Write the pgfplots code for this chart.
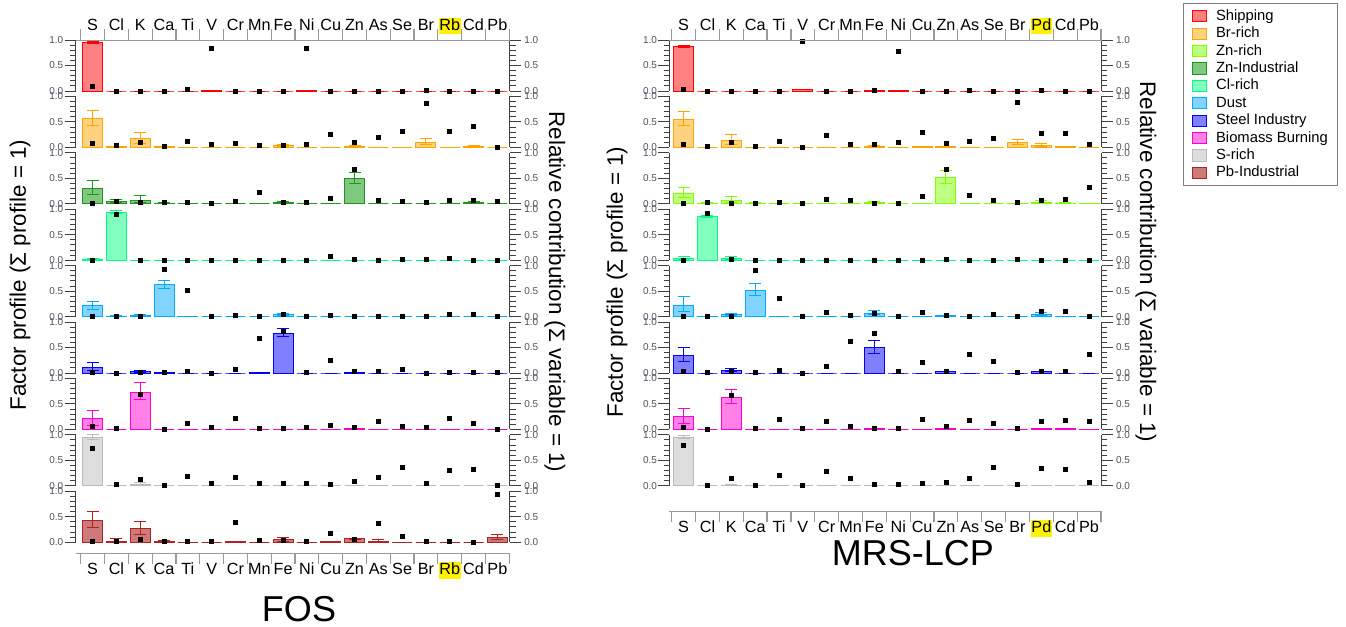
\documentclass[border=0pt]{standalone}
\usepackage{pgfplots}
\pgfplotsset{compat=1.18}
\usepackage{pgfplotstable}
\usepackage{fontspec}
\setmainfont{Liberation Sans}

\definecolor{cShip}{HTML}{FF0000} \definecolor{fShip}{HTML}{FF8080}
\definecolor{cBr}{HTML}{FFA500} \definecolor{fBr}{HTML}{FFD280}
\definecolor{cZnR}{HTML}{80FF00} \definecolor{fZnR}{HTML}{BFFF80}
\definecolor{cZnI}{HTML}{1E961E} \definecolor{fZnI}{HTML}{80C880}
\definecolor{cCl}{HTML}{00FF80} \definecolor{fCl}{HTML}{80FFBF}
\definecolor{cDust}{HTML}{00AAFF} \definecolor{fDust}{HTML}{80D4FF}
\definecolor{cSteel}{HTML}{0000FF} \definecolor{fSteel}{HTML}{8080FF}
\definecolor{cBio}{HTML}{FF00CC} \definecolor{fBio}{HTML}{FF80E6}
\definecolor{cSr}{HTML}{BBBBBB} \definecolor{fSr}{HTML}{DDDDDD}
\definecolor{cPb}{HTML}{B22222} \definecolor{fPb}{HTML}{CC7A7A}
\definecolor{axc}{HTML}{404040}
\definecolor{lblc}{HTML}{505060}
\definecolor{xac}{HTML}{999999}

% ---------------- FOS ----------------
\pgfplotstableread{
x y ep em c
0 0.95 0.03 0.02 0.085
1 0 0 0 0
2 0 0 0 0
3 0 0 0 0
4 0 0 0 0.03
5 0.01 0 0 0.84
6 0 0 0 0
7 0 0 0 0
8 0 0 0 0
9 0.01 0 0 0.83
10 0 0 0 0
11 0 0 0 0
12 0 0 0 0
13 0 0 0 0
14 0 0 0 0.01
15 0 0 0 0
16 0 0 0 0
17 0 0 0 0
}\LA
\pgfplotstableread{
x y ep em c
0 0.57 0.16 0.15 0.07
1 0.02 0 0 0.03
2 0.17 0.12 0.10 0.09
3 0.01 0 0 0.01
4 0 0 0 0.11
5 0 0 0 0.05
6 0 0 0 0.07
7 0 0 0 0.03
8 0.03 0.03 0.02 0.04
9 0 0 0 0.05
10 0 0 0 0.25
11 0.02 0.02 0.01 0.09
12 0 0 0 0.20
13 0 0 0 0.32
14 0.09 0.08 0.04 0.87
15 0 0 0 0.31
16 0.02 0.02 0.01 0.42
17 0 0 0 0
}\LB
\pgfplotstableread{
x y ep em c
0 0.30 0.16 0.12 0.01
1 0.04 0.04 0.02 0.04
2 0.07 0.09 0.05 0.03
3 0.01 0.02 0.01 0.03
4 0 0 0 0.02
5 0 0 0 0
6 0 0 0 0.05
7 0 0 0 0.22
8 0.02 0.03 0.02 0.02
9 0 0 0 0.02
10 0 0 0 0.11
11 0.49 0.13 0.10 0.68
12 0 0 0 0.07
13 0 0 0 0.04
14 0 0 0 0.02
15 0 0 0 0.06
16 0.02 0.02 0.01 0.07
17 0 0 0 0.04
}\LC
\pgfplotstableread{
x y ep em c
0 0.02 0.02 0.01 0
1 0.94 0.03 0.02 0.89
2 0 0 0 0
3 0 0 0 0
4 0 0 0 0
5 0 0 0 0
6 0 0 0 0
7 0 0 0 0
8 0 0 0 0
9 0 0 0 0
10 0 0 0 0.08
11 0 0 0 0.01
12 0 0 0 0
13 0 0 0 0.01
14 0 0 0 0.01
15 0 0 0 0.04
16 0 0 0 0
17 0 0 0 0
}\LD
\pgfplotstableread{
x y ep em c
0 0.21 0.09 0.07 0.01
1 0.01 0.02 0.01 0
2 0.03 0.02 0.01 0.01
3 0.62 0.09 0.06 0.92
4 0.01 0 0 0.51
5 0 0 0 0
6 0 0 0 0.03
7 0 0 0 0.01
8 0.04 0.03 0.02 0.05
9 0 0 0 0.01
10 0 0 0 0.03
11 0 0 0 0.01
12 0 0 0 0
13 0 0 0 0.01
14 0 0 0 0
15 0 0 0 0.05
16 0 0 0 0.05
17 0 0 0 0
}\LE
\pgfplotstableread{
x y ep em c
0 0.10 0.11 0.05 0.01
1 0 0 0 0
2 0.02 0.03 0.01 0.01
3 0.01 0 0 0.01
4 0 0 0 0.03
5 0 0 0 0
6 0 0 0 0.08
7 0.01 0 0 0.68
8 0.78 0.10 0.07 0.81
9 0 0 0 0.01
10 0 0 0 0.24
11 0.01 0 0 0.03
12 0 0 0 0.04
13 0 0 0 0.08
14 0 0 0 0
15 0 0 0 0.01
16 0 0 0 0.01
17 0 0 0 0.01
}\LF
\pgfplotstableread{
x y ep em c
0 0.22 0.16 0.15 0.05
1 0 0 0 0.02
2 0.73 0.19 0.15 0.69
3 0 0 0 0
4 0 0 0 0.11
5 0 0 0 0.03
6 0 0 0 0.22
7 0 0 0 0.01
8 0 0 0 0.01
9 0 0 0 0.03
10 0 0 0 0.07
11 0.02 0 0 0.04
12 0 0 0 0.15
13 0 0 0 0.05
14 0 0 0 0.03
15 0 0 0 0.21
16 0 0 0 0.12
17 0 0 0 0
}\LG
\pgfplotstableread{
x y ep em c
0 0.95 0.05 0.04 0.74
1 0 0 0 0.03
2 0.02 0.05 0.02 0.12
3 0 0 0 0.01
4 0 0 0 0.19
5 0 0 0 0.05
6 0 0 0 0.16
7 0 0 0 0.04
8 0 0 0 0.04
9 0 0 0 0.04
10 0 0 0 0.03
11 0 0 0 0.08
12 0 0 0 0.16
13 0 0 0 0.37
14 0 0 0 0.04
15 0 0 0 0.31
16 0 0 0 0.32
17 0 0 0 0.01
}\LH
\pgfplotstableread{
x y ep em c
0 0.42 0.18 0.13 0.01
1 0.02 0.05 0.02 0.01
2 0.27 0.14 0.11 0.05
3 0.01 0.02 0.01 0.01
4 0 0 0 0.01
5 0 0 0 0.01
6 0.01 0 0 0.39
7 0 0 0 0.03
8 0.05 0.05 0.03 0.03
9 0 0 0 0.01
10 0.01 0 0 0.18
11 0.07 0.01 0.01 0.05
12 0.02 0.03 0.01 0.37
13 0 0 0 0.11
14 0 0 0 0.01
15 0 0 0 0.01
16 0 0 0 0
17 0.09 0.06 0.04 0.94
}\LI

% ---------------- MRS-LCP ----------------
\pgfplotstableread{
x y ep em c
0 0.88 0.02 0.02 0.03
1 0 0 0 0
2 0 0 0 0
3 0 0 0 0
4 0 0 0 0
5 0.02 0 0 0.97
6 0 0 0 0
7 0 0 0 0
8 0.01 0 0 0.01
9 0.01 0 0 0.78
10 0 0 0 0
11 0 0 0 0
12 0 0 0 0.01
13 0 0 0 0
14 0 0 0 0
15 0 0 0 0.01
16 0 0 0 0
17 0 0 0 0
}\RA
\pgfplotstableread{
x y ep em c
0 0.55 0.16 0.13 0.05
1 0 0 0 0.01
2 0.13 0.12 0.07 0.09
3 0 0 0 0.01
4 0 0 0 0.12
5 0 0 0 0
6 0 0 0 0.24
7 0 0 0 0.06
8 0.02 0.01 0.01 0.05
9 0 0 0 0.09
10 0.01 0 0 0.30
11 0.01 0 0 0.08
12 0 0 0 0.11
13 0 0 0 0.17
14 0.10 0.06 0.04 0.88
15 0.03 0.04 0.02 0.28
16 0.01 0 0 0.28
17 0 0 0 0.06
}\RB
\pgfplotstableread{
x y ep em c
0 0.21 0.11 0.09 0.01
1 0.01 0.02 0.01 0.03
2 0.07 0.07 0.04 0.01
3 0.01 0.02 0.01 0.01
4 0 0 0 0.03
5 0 0 0 0
6 0 0 0 0.08
7 0 0 0 0.06
8 0.02 0.02 0.01 0.01
9 0 0 0 0.01
10 0.01 0 0 0.14
11 0.51 0.14 0.11 0.68
12 0 0 0 0.16
13 0 0 0 0.06
14 0.01 0 0 0.03
15 0.03 0.04 0.02 0.06
16 0.01 0.02 0.01 0.08
17 0.01 0 0 0.33
}\RC
\pgfplotstableread{
x y ep em c
0 0.04 0.03 0.02 0
1 0.85 0.03 0.02 0.92
2 0.04 0.03 0.02 0.01
3 0 0 0 0
4 0 0 0 0
5 0 0 0 0
6 0 0 0 0
7 0 0 0 0
8 0 0 0 0
9 0 0 0 0
10 0 0 0 0
11 0 0 0 0.02
12 0 0 0 0
13 0 0 0 0
14 0 0 0 0.02
15 0 0 0 0
16 0 0 0 0
17 0 0 0 0
}\RD
\pgfplotstableread{
x y ep em c
0 0.22 0.17 0.12 0.01
1 0.01 0 0 0.01
2 0.04 0.03 0.02 0.01
3 0.52 0.13 0.10 0.91
4 0 0 0 0.35
5 0 0 0 0
6 0 0 0 0.08
7 0 0 0 0.03
8 0.07 0.04 0.03 0.07
9 0 0 0 0.01
10 0 0 0 0.08
11 0.02 0 0 0.03
12 0 0 0 0
13 0 0 0 0.04
14 0 0 0 0
15 0.04 0.04 0.02 0.10
16 0.01 0 0 0.10
17 0 0 0 0.01
}\RE
\pgfplotstableread{
x y ep em c
0 0.34 0.16 0.12 0.04
1 0 0 0 0.01
2 0.04 0.05 0.02 0.03
3 0 0 0 0.01
4 0 0 0 0.06
5 0 0 0 0
6 0 0 0 0.13
7 0 0 0 0.62
8 0.50 0.13 0.11 0.78
9 0 0 0 0.04
10 0 0 0 0.21
11 0.02 0 0 0.04
12 0 0 0 0.36
13 0 0 0 0.22
14 0 0 0 0.01
15 0.02 0.01 0 0.04
16 0 0 0 0.04
17 0 0 0 0.36
}\RF
\pgfplotstableread{
x y ep em c
0 0.25 0.16 0.13 0.04
1 0 0 0 0
2 0.63 0.16 0.12 0.66
3 0 0 0 0.01
4 0 0 0 0.20
5 0 0 0 0.01
6 0 0 0 0.15
7 0 0 0 0.05
8 0.01 0 0 0.02
9 0 0 0 0.02
10 0 0 0 0.19
11 0.01 0 0 0.06
12 0 0 0 0.17
13 0 0 0 0.12
14 0 0 0 0.02
15 0.01 0 0 0.16
16 0.01 0 0 0.17
17 0 0 0 0.15
}\RG
\pgfplotstableread{
x y ep em c
0 0.95 0.04 0.03 0.80
1 0 0 0 0.01
2 0.01 0.02 0.01 0.14
3 0 0 0 0.01
4 0 0 0 0.20
5 0 0 0 0.01
6 0 0 0 0.29
7 0 0 0 0.14
8 0 0 0 0.03
9 0 0 0 0.03
10 0 0 0 0.05
11 0 0 0 0.07
12 0 0 0 0.14
13 0 0 0 0.36
14 0 0 0 0.03
15 0.01 0 0 0.34
16 0 0 0 0.33
17 0 0 0 0.06
}\RH

\newcommand{\hlbox}[1]{{\setlength{\fboxsep}{0.2pt}\colorbox{yellow}{\rule[-1.95pt]{0pt}{6.95pt}#1}}}

\pgfplotsset{
  panelbase/.style={scale only axis, height=25.5pt, ymin=0, ymax=1, xmax=17.53,
    separate axis lines, axis line style={draw=axc, line width=0.5pt},
    x axis line style={draw=none},
    xtick=\empty, ytick={0,0.5,1}, yticklabels={0.0,0.5,1.0}, minor y tick num=4,
    tick align=outside, major tick length=5.5pt, minor tick length=2.8pt,
    tick style={axc, line width=0.5pt},
    yticklabel style={font=\fontsize{5}{5}\selectfont, text=lblc, inner sep=0.5pt},
    anchor=south west, clip=false,
    after end axis/.code={
      \node[font=\fontsize{5}{5}\selectfont, text=lblc, anchor=west, inner sep=0.5pt, xshift=6.5pt] at (rel axis cs:1,0) {0.0};
      \node[font=\fontsize{5}{5}\selectfont, text=lblc, anchor=west, inner sep=0.5pt, xshift=6.5pt] at (rel axis cs:1,0.5) {0.5};
      \node[font=\fontsize{5}{5}\selectfont, text=lblc, anchor=west, inner sep=0.5pt, xshift=6.5pt] at (rel axis cs:1,1) {1.0};
    }},
  panelL/.style={panelbase, width=217.15pt, xmin=-0.71},
  panelR/.style={panelbase, width=216.2pt, xmin=-0.60},
  catbase/.style={scale only axis, ymin=0, ymax=1, xmax=17.53, anchor=south west,
    axis y line=none, axis line style={-, draw=xac, line width=0.5pt},
    xtick={0,...,17}, minor xtick={-0.5,0.5,...,17.5},
    tick align=outside, major tick length=0pt, minor tick length=5.5pt,
    tick style={xac, line width=0.6pt}},
  sq legend/.style={legend image code/.code={\draw[##1] (0pt,-2.8pt) rectangle (7pt,2.8pt);}},
}

\newcommand{\panel}[6]{%
\begin{axis}[panel#6, at={(#1,#2)}]
\addplot[ybar, bar width=0.84, draw=#3, fill=#4, line width=0.5pt,
  error bars/.cd, y dir=both, y explicit,
  error bar style={draw=#3, line width=0.5pt},
  error mark options={draw=#3, mark size=3pt, line width=0.5pt, rotate=90}]
  table[x=x, y=y, y error plus=ep, y error minus=em]{#5};
\addplot[only marks, mark=square*, mark size=1pt, mark options={fill=black, draw=black}]
  table[x=x, y=c]{#5};
\end{axis}}

\begin{document}
\begin{tikzpicture}
\useasboundingbox (0,0) rectangle (673pt,-313.5pt);

% ---- FOS group ----
\panel{37.85pt}{-45.5pt}{cShip}{fShip}{\LA}{L}
\panel{37.85pt}{-73.7pt}{cBr}{fBr}{\LB}{L}
\panel{37.85pt}{-101.9pt}{cZnI}{fZnI}{\LC}{L}
\panel{37.85pt}{-130.1pt}{cCl}{fCl}{\LD}{L}
\panel{37.85pt}{-158.3pt}{cDust}{fDust}{\LE}{L}
\panel{37.85pt}{-186.5pt}{cSteel}{fSteel}{\LF}{L}
\panel{37.85pt}{-214.7pt}{cBio}{fBio}{\LG}{L}
\panel{37.85pt}{-242.9pt}{cSr}{fSr}{\LH}{L}
\panel{37.85pt}{-271.1pt}{cPb}{fPb}{\LI}{L}

\begin{axis}[catbase, width=217.15pt, height=25.5pt, xmin=-0.71, at={(37.85pt,-45.5pt)},
  axis x line*=top,
  xticklabels={S,Cl,K,Ca,Ti,V,Cr,Mn,Fe,Ni,Cu,Zn,As,Se,Br,\hlbox{Rb},Cd,Pb},
  xticklabel style={font=\fontsize{8.1}{8.1}\selectfont, anchor=south, text height=5.8pt, text depth=0pt, inner sep=0pt, yshift=4.75pt}]
\end{axis}
\begin{axis}[catbase, width=217.15pt, height=4pt, xmin=-0.71, at={(37.85pt,-276.5pt)},
  axis x line*=bottom,
  xticklabels={S,Cl,K,Ca,Ti,V,Cr,Mn,Fe,Ni,Cu,Zn,As,Se,Br,\hlbox{Rb},Cd,Pb},
  xticklabel style={font=\fontsize{8.1}{8.1}\selectfont, anchor=north, text height=5.8pt, text depth=0pt, inner sep=0pt, yshift=-4.6pt}]
\end{axis}

% ---- MRS-LCP group ----
\panel{334.65pt}{-45.5pt}{cShip}{fShip}{\RA}{R}
\panel{334.65pt}{-73.7pt}{cBr}{fBr}{\RB}{R}
\panel{334.65pt}{-101.9pt}{cZnR}{fZnR}{\RC}{R}
\panel{334.65pt}{-130.1pt}{cCl}{fCl}{\RD}{R}
\panel{334.65pt}{-158.3pt}{cDust}{fDust}{\RE}{R}
\panel{334.65pt}{-186.5pt}{cSteel}{fSteel}{\RF}{R}
\panel{334.65pt}{-214.7pt}{cBio}{fBio}{\RG}{R}
\panel{334.65pt}{-242.9pt}{cSr}{fSr}{\RH}{R}

\begin{axis}[catbase, width=216.2pt, height=25.5pt, xmin=-0.60, at={(334.65pt,-45.5pt)},
  axis x line*=top,
  xticklabels={S,Cl,K,Ca,Ti,V,Cr,Mn,Fe,Ni,Cu,Zn,As,Se,Br,\hlbox{Pd},Cd,Pb},
  xticklabel style={font=\fontsize{8.1}{8.1}\selectfont, anchor=south, text height=5.8pt, text depth=0pt, inner sep=0pt, yshift=4.75pt}]
\end{axis}
\begin{axis}[catbase, width=216.2pt, height=4pt, xmin=-0.60, at={(334.65pt,-255.5pt)},
  axis x line*=bottom,
  xticklabels={S,Cl,K,Ca,Ti,V,Cr,Mn,Fe,Ni,Cu,Zn,As,Se,Br,\hlbox{Pd},Cd,Pb},
  xticklabel style={font=\fontsize{8.1}{8.1}\selectfont, anchor=north, text height=5.8pt, text depth=0pt, inner sep=0pt, yshift=-4.6pt}]
\end{axis}

% ---- legend ----
\begin{axis}[hide axis, scale only axis, width=5pt, height=5pt, xmin=0, xmax=1, ymin=0, ymax=1,
  at={(591.5pt,-1.5pt)}, anchor=north west,
  legend cell align=left,
  legend style={at={(0,1)}, anchor=north west, draw=gray, line width=0.5pt,
    font=\fontsize{7.4}{7.4}\selectfont, row sep=0pt, inner xsep=4pt, inner ysep=2pt,
    nodes={inner sep=0.8pt, text height=5.6pt, text depth=1.5pt},
    /tikz/every odd column/.append style={column sep=4pt}}]
\addlegendimage{sq legend, draw=cShip, fill=fShip, line width=0.5pt}
\addlegendentry{Shipping}
\addlegendimage{sq legend, draw=cBr, fill=fBr, line width=0.5pt}
\addlegendentry{Br-rich}
\addlegendimage{sq legend, draw=cZnR, fill=fZnR, line width=0.5pt}
\addlegendentry{Zn-rich}
\addlegendimage{sq legend, draw=cZnI, fill=fZnI, line width=0.5pt}
\addlegendentry{Zn-Industrial}
\addlegendimage{sq legend, draw=cCl, fill=fCl, line width=0.5pt}
\addlegendentry{Cl-rich}
\addlegendimage{sq legend, draw=cDust, fill=fDust, line width=0.5pt}
\addlegendentry{Dust}
\addlegendimage{sq legend, draw=cSteel, fill=fSteel, line width=0.5pt}
\addlegendentry{Steel Industry}
\addlegendimage{sq legend, draw=cBio, fill=fBio, line width=0.5pt}
\addlegendentry{Biomass Burning}
\addlegendimage{sq legend, draw=cSr, fill=fSr, line width=0.5pt}
\addlegendentry{S-rich}
\addlegendimage{sq legend, draw=cPb, fill=fPb, line width=0.5pt}
\addlegendentry{Pb-Industrial}
\end{axis}

% ---- titles ----
\node[rotate=90, font=\fontsize{11.2}{11.2}\selectfont] at (10pt,-137.5pt) {Factor profile (Σ profile = 1)};
\node[rotate=-90, font=\fontsize{11.2}{11.2}\selectfont] at (277.5pt,-146pt) {Relative contribution (Σ variable = 1)};
\node[rotate=90, font=\fontsize{11.2}{11.2}\selectfont] at (308.5pt,-141pt) {Factor profile (Σ profile = 1)};
\node[rotate=-90, font=\fontsize{11.2}{11.2}\selectfont] at (573pt,-131pt) {Relative contribution (Σ variable = 1)};
\node[font=\fontsize{18}{18}\selectfont] at (149.5pt,-304.5pt) {FOS};
\node[font=\fontsize{18}{18}\selectfont] at (456.5pt,-276.5pt) {MRS-LCP};
\end{tikzpicture}
\end{document}
